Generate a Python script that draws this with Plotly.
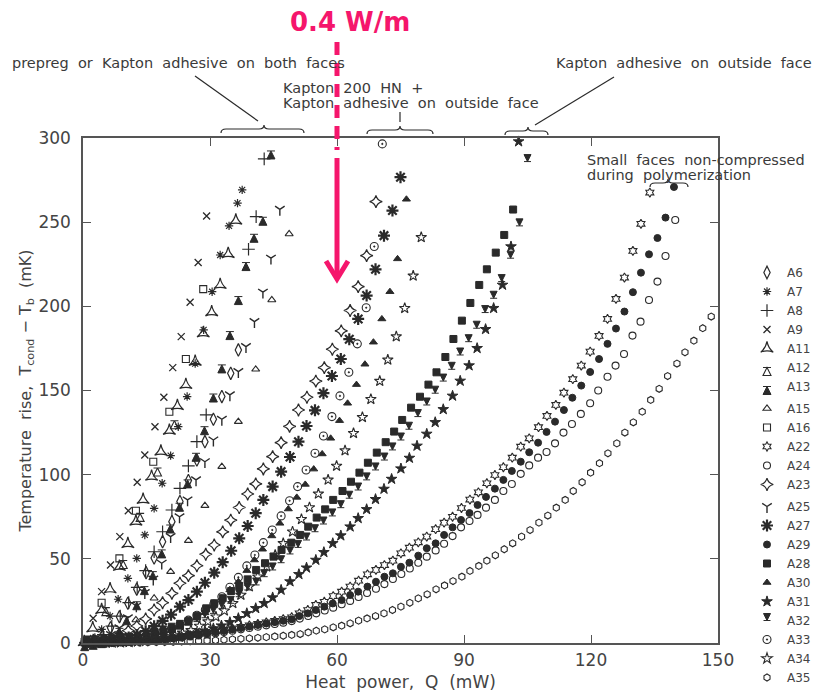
import plotly.graph_objects as go

# ---------------- data: heat power Q (mW) and temperature rise T (mK) ----------------
A6_Q = [0.5, 2.5, 4.5, 6.5, 8.6, 10.6, 12.7, 14.9, 16.8, 18.8, 21.0, 22.9, 24.9, 26.9, 28.8, 30.8, 32.8, 34.9, 36.7]
A6_T = [0.0, 1.5, 4.0, 9.0, 15.6, 23.6, 32.0, 41.8, 50.5, 60.2, 72.1, 84.0, 96.5, 108.7, 119.6, 132.9, 146.4, 160.2, 174.1]

A7_Q = [0.4, 2.4, 4.4, 6.4, 8.3, 10.6, 12.7, 14.6, 16.8, 18.7, 20.7, 22.5, 24.6, 26.5, 28.5, 30.5, 32.4, 34.5, 36.5, 37.6]
A7_T = [0.5, 3.0, 8.1, 16.0, 26.0, 38.4, 50.3, 64.2, 80.0, 94.9, 111.3, 128.5, 146.4, 166.0, 186.0, 208.7, 230.5, 247.8, 261.3, 269.2]

A8_Q = [0.8, 2.8, 4.8, 6.8, 8.8, 10.8, 12.8, 14.8, 16.8, 18.8, 21.0, 22.9, 24.9, 26.9, 29.1, 39.1, 40.9, 42.8]
A8_T = [0.2, 2.0, 5.0, 10.0, 16.0, 24.0, 33.0, 43.0, 54.2, 66.1, 79.0, 91.9, 105.2, 119.6, 135.5, 233.9, 253.3, 287.6]

A9_Q = [0.4, 2.4, 4.4, 6.5, 8.7, 10.7, 12.8, 14.6, 17.0, 19.1, 21.2, 23.2, 25.3, 27.2, 29.2]
A9_T = [1.0, 14.7, 30.5, 46.3, 63.2, 78.6, 95.5, 111.7, 128.5, 146.0, 163.6, 182.0, 202.4, 226.0, 253.7]

A11_Q = [0.3, 2.3, 4.4, 6.4, 8.6, 10.6, 12.5, 14.2, 16.2, 18.4, 20.4, 22.3, 24.3, 26.5, 28.4, 30.4, 32.4, 34.3, 36.1]
A11_T = [0.5, 8.7, 19.6, 31.9, 45.3, 58.8, 72.1, 85.0, 98.8, 113.7, 126.1, 140.8, 153.3, 167.1, 184.0, 196.5, 212.7, 231.1, 250.9]

A12_Q = [1.4, 5.4, 9.5, 13.5, 17.6, 21.6]
A12_T = [2.5, 21.0, 49.0, 77.0, 104.0, 132.0]

A13_Q = [0.4, 2.4, 4.4, 6.4, 8.6, 10.3, 12.7, 14.5, 16.5, 18.6, 20.6, 22.8, 24.7, 26.7, 28.7, 30.8, 32.8, 34.7, 36.7, 38.5, 40.4, 42.5, 44.4]
A13_T = [0.2, 1.0, 2.0, 3.7, 8.7, 15.6, 24.5, 33.5, 42.4, 55.3, 70.1, 83.0, 96.9, 112.7, 128.5, 147.9, 165.2, 185.0, 205.8, 226.0, 242.8, 252.9, 292.3]

A15_Q = [0.5, 4.5, 8.5, 12.5, 16.8, 20.7, 24.9, 28.8, 32.8, 36.7, 40.8, 44.6, 48.7]
A15_T = [0.0, 2.0, 6.5, 13.7, 26.6, 42.4, 60.8, 81.6, 104.8, 131.5, 162.6, 203.8, 243.0]

A16_Q = [0.4, 4.4, 8.6, 12.5, 16.6, 20.4, 24.3, 28.4]
A16_T = [0.5, 23.9, 50.3, 78.6, 107.7, 137.4, 168.7, 210.2]

A22_Q = [1.3, 3.3, 5.3, 7.3, 9.3, 11.3, 13.3, 15.3, 17.3, 19.3, 21.3, 23.3, 25.3, 27.3, 29.3, 31.3, 33.3, 35.3, 37.3, 39.3, 41.3, 43.3, 45.3, 47.3,
         49.3, 51.1, 53.1, 55.0, 57.0, 59.1, 61.1, 63.1, 65.1, 67.2,
         69.2, 71.2, 73.2, 75.1, 77.1, 79.2, 81.2, 83.3, 85.3, 87.3,
         89.4, 91.4, 93.4, 95.4, 97.3, 99.3, 101.4, 103.4, 105.4, 107.6,
         109.6, 111.7, 113.6, 115.7, 117.7, 119.8, 121.9, 123.9, 125.9, 127.9,
         129.9, 131.8, 133.9]
A22_T = [0.0, 0.1, 0.2, 0.4, 0.7, 1.0, 1.4, 1.8, 2.3, 2.8, 3.4, 4.0, 4.7, 5.4, 6.2, 7.0, 7.8, 8.7, 9.6, 10.5, 11.4, 12.3, 13.2, 14.2,
         15.3, 17.6, 19.6, 22.6, 24.5, 27.9, 30.5, 33.5, 37.0, 40.8,
         43.4, 46.3, 48.9, 53.3, 56.6, 59.8, 63.2, 67.6, 71.5, 75.0,
         80.2, 85.2, 89.5, 94.9, 99.8, 104.4, 110.1, 116.6, 121.6, 128.2,
         134.9, 141.4, 148.7, 156.7, 164.8, 173.1, 182.4, 192.5, 204.4, 217.1,
         232.9, 249.0, 267.6]

A24_Q = [1.3, 3.3, 5.3, 7.3, 9.3, 11.3, 13.3, 15.3, 17.3, 19.3, 21.3, 23.3, 25.3, 27.3, 29.3, 31.3, 33.3, 35.3, 37.3, 39.3, 41.3, 43.3, 45.3, 47.3,
         49.3, 51.2, 53.2, 55.1, 57.1, 59.1, 61.1, 63.1, 65.1, 67.1,
         69.2, 71.2, 73.2, 75.2, 77.2, 79.2, 81.2, 83.3, 85.3, 87.3,
         89.3, 91.3, 93.2, 95.2, 97.3, 99.3, 101.3, 103.4, 105.4, 107.5,
         109.5, 111.5, 113.5, 115.5, 117.6, 119.8, 121.7, 123.9, 125.8, 127.8,
         129.8, 131.7, 133.7, 135.7, 137.6, 139.9]
A24_T = [0.0, 0.1, 0.2, 0.3, 0.5, 0.8, 1.1, 1.4, 1.8, 2.3, 2.8, 3.3, 3.9, 4.5, 5.1, 5.8, 6.5, 7.3, 8.1, 8.9, 9.7, 10.5, 11.3, 12.1,
         13.0, 14.5, 16.0, 17.6, 19.3, 21.0, 23.0, 25.0, 27.3, 29.7,
         32.2, 35.0, 38.0, 41.0, 44.3, 47.7, 51.3, 55.0, 59.0, 63.5,
         68.7, 72.5, 76.1, 80.4, 85.0, 90.3, 94.5, 100.5, 105.5, 110.1,
         113.5, 118.6, 125.0, 130.1, 136.1, 142.4, 150.0, 158.2, 164.8, 171.7,
         182.6, 190.9, 203.8, 214.7, 229.9, 251.3]

A23_Q = [0.6, 2.6, 4.6, 6.6, 8.6, 10.7, 12.7, 14.8, 16.8, 18.8,
         21.0, 22.9, 24.9, 26.9, 29.0, 31.0, 33.0, 34.9, 36.9, 38.9,
         40.8, 42.6, 44.8, 46.8, 48.8, 50.9, 52.9, 55.0, 57.0, 58.9,
         61.0, 63.1, 65.0, 67.0, 69.2]
A23_T = [0.2, 0.8, 1.7, 3.0, 5.0, 7.3, 10.1, 14.3, 19.6, 23.9,
         29.5, 35.5, 40.0, 45.9, 52.7, 58.2, 66.0, 73.0, 80.5, 88.5,
         94.5, 103.4, 110.7, 119.0, 128.7, 138.4, 146.0, 155.6, 163.6, 174.5,
         185.4, 197.5, 211.7, 230.1, 262.2]

A25_Q = [0.6, 2.6, 4.6, 6.6, 8.6, 10.6, 12.6, 14.6, 16.6, 18.6,
         20.7, 22.8, 24.7, 26.7, 28.8, 30.8, 32.8, 34.7, 36.7, 38.5,
         40.5, 42.5, 44.4, 46.5]
A25_T = [0.0, 0.5, 2.0, 5.0, 9.0, 15.0, 22.0, 30.0, 38.0, 47.4,
         63.2, 75.0, 85.0, 96.9, 107.7, 120.6, 132.9, 147.4, 161.2, 176.1,
         190.9, 208.4, 228.6, 257.6]

A27_Q = [0.8, 2.8, 4.8, 6.8, 8.8, 10.8, 12.8, 14.8, 16.8, 18.8,
         20.8, 22.9, 24.9, 26.9, 28.8, 31.0, 33.0, 35.0, 36.9, 38.9,
         40.8, 42.6, 44.8, 46.8, 48.9, 50.9, 52.8, 54.8, 56.8, 58.8,
         60.9, 62.9, 65.0, 67.0, 69.1, 71.1, 73.1, 75.0]
A27_T = [0.0, 0.2, 0.6, 1.2, 2.0, 3.2, 4.8, 7.0, 10.0, 13.2,
         16.8, 21.6, 25.5, 30.5, 35.8, 41.8, 48.0, 54.8, 62.2, 69.5,
         77.1, 85.0, 92.9, 101.8, 110.5, 119.6, 128.9, 138.2, 148.4, 158.6,
         168.7, 180.5, 192.5, 206.4, 222.0, 242.0, 256.9, 276.7]

A29_Q = [1.3, 3.3, 5.3, 7.3, 9.3, 11.3, 13.3, 15.3, 17.3, 19.3, 21.3, 23.3, 25.3, 27.3, 29.3, 31.3, 33.3, 35.3, 37.3, 39.3, 41.3, 43.3, 45.3, 47.3,
         49.3, 51.1, 53.1, 55.0, 57.0, 59.0, 61.1, 63.1, 65.0, 67.2,
         69.2, 71.2, 73.2, 75.1, 77.1, 79.2, 81.2, 83.3, 85.3, 87.3,
         89.3, 91.3, 93.2, 95.2, 97.3, 99.3, 101.3, 103.4, 105.4, 107.5,
         109.5, 111.5, 113.6, 115.6, 117.7, 119.8, 121.9, 123.9, 125.9, 127.9,
         129.9, 131.8, 133.7, 135.7, 137.6, 139.6]
A29_T = [0.0, 0.1, 0.2, 0.4, 0.6, 0.9, 1.2, 1.6, 2.0, 2.5, 3.0, 3.6, 4.2, 4.9, 5.6, 6.4, 7.2, 8.0, 8.9, 9.8, 10.7, 11.6, 12.4, 13.2,
         14.1, 16.0, 17.6, 19.6, 21.6, 23.5, 25.5, 28.5, 30.5, 33.5,
         36.4, 39.4, 41.4, 45.3, 47.7, 51.9, 56.3, 59.2, 64.2, 68.7,
         73.1, 77.2, 82.0, 86.8, 91.7, 96.9, 102.2, 107.7, 113.3, 119.0,
         125.4, 131.5, 138.4, 145.7, 152.9, 161.0, 168.7, 177.7, 186.8, 196.9,
         208.4, 220.0, 230.9, 240.6, 252.7, 270.9]

A28_Q = [1.0, 3.0, 5.0, 7.0, 9.0, 11.0, 13.0, 15.0, 17.0, 19.0,
         21.0, 22.9, 24.9, 26.9, 29.1, 31.0, 33.0, 35.0, 36.9, 38.9,
         40.9, 43.0, 45.0, 46.9, 49.2, 51.3, 53.2, 55.2, 57.2, 59.1,
         61.3, 63.3, 65.3, 67.3, 69.4, 71.5, 73.5, 75.4, 77.5, 79.6,
         81.6, 83.5, 85.6, 87.5, 89.5, 91.5, 93.6, 95.4, 97.5, 99.5,
         101.6]
A28_T = [0.0, 0.2, 0.4, 0.8, 1.3, 2.0, 2.9, 4.0, 5.3, 6.8,
         8.5, 10.5, 13.0, 16.0, 20.6, 23.6, 26.6, 30.9, 33.9, 37.8,
         43.4, 47.4, 51.3, 55.3, 59.6, 64.2, 69.1, 74.5, 79.4, 85.0,
         90.3, 95.8, 101.2, 107.1, 113.1, 119.3, 125.6, 132.5, 139.8, 146.3,
         153.5, 160.8, 169.9, 180.6, 191.5, 202.0, 212.7, 222.0, 231.9, 242.4,
         257.5]

A30_Q = [0.9, 2.9, 4.9, 6.9, 8.9, 10.9, 12.9, 14.9, 16.9, 18.9,
         20.8, 22.9, 24.9, 26.9, 28.8, 30.8, 32.8, 34.7, 36.7, 38.7,
         40.5, 42.4, 44.6, 46.5, 48.5, 50.5, 52.5, 54.5, 56.5, 58.5,
         60.6, 62.5, 64.6, 66.6, 68.6, 70.6, 72.5, 74.3, 76.4]
A30_T = [0.0, 0.1, 0.3, 0.6, 1.0, 1.6, 2.4, 3.4, 4.6, 5.9,
         7.3, 9.3, 11.7, 14.7, 18.0, 22.0, 26.6, 31.5, 36.4, 43.0,
         49.3, 55.7, 63.6, 71.1, 79.6, 86.5, 94.2, 103.3, 112.3, 121.6,
         132.1, 142.4, 153.5, 165.6, 178.7, 192.5, 208.7, 228.2, 263.6]

A31_Q = [1.0, 3.0, 4.9, 6.9, 8.9, 10.9, 12.9, 14.8, 16.8, 18.8,
         20.8, 22.8, 24.8, 26.8, 28.8, 30.8, 32.7, 34.7, 36.7, 38.7,
         40.8, 42.8, 44.8, 46.8, 48.9, 51.0, 52.8, 55.0, 56.9, 59.0,
         60.9, 63.1, 65.0, 67.0, 69.1, 71.1, 72.9, 75.1, 77.1, 78.9,
         81.2, 83.2, 85.1, 87.3, 89.1, 91.2, 93.1, 95.1, 97.0, 99.1,
         101.1, 102.9]
A31_T = [0.0, 0.0, 0.0, 0.1, 0.2, 0.4, 0.7, 1.0, 1.5, 2.1,
         2.8, 3.6, 4.6, 5.7, 7.0, 8.6, 10.3, 12.3, 14.7, 17.6,
         20.6, 23.6, 27.0, 31.5, 36.5, 40.8, 44.7, 49.3, 53.9, 59.2,
         63.8, 69.1, 74.1, 79.4, 85.4, 91.5, 97.4, 103.6, 109.9, 117.1,
         124.2, 131.1, 138.8, 146.8, 155.7, 164.8, 175.1, 186.4, 198.9, 212.7,
         235.5, 297.9]

A32_Q = [1.0, 2.9, 4.9, 6.9, 8.9, 10.9, 12.9, 14.9, 16.9, 18.9,
         20.9, 22.9, 24.9, 26.9, 28.8, 30.8, 32.8, 34.9, 36.9, 38.9,
         40.9, 42.8, 44.8, 46.8, 48.9, 50.8, 52.8, 54.8, 56.8, 58.9,
         60.9, 62.9, 65.0, 67.0, 69.1, 71.2, 73.1, 75.1, 77.0, 79.1,
         81.2, 83.2, 85.1, 87.1, 89.1, 91.1, 93.0, 95.0, 97.0, 98.9,
         101.0, 103.1, 105.0]
A32_T = [0.0, 0.1, 0.3, 0.6, 1.0, 1.6, 2.4, 3.4, 4.6, 6.0,
         7.6, 9.3, 10.7, 12.7, 15.0, 17.6, 20.6, 23.6, 27.5, 31.5,
         34.5, 39.4, 43.4, 47.7, 52.9, 56.8, 61.2, 66.1, 70.7, 75.5,
         80.4, 86.0, 90.9, 96.9, 102.8, 108.7, 114.7, 120.6, 127.0, 134.5,
         141.4, 148.4, 155.6, 162.6, 171.1, 179.0, 187.0, 196.3, 204.8, 214.7,
         228.6, 247.8, 286.0]

A33_Q = [0.9, 2.9, 4.9, 6.9, 8.9, 10.9, 12.9, 14.9, 16.9, 18.9,
         20.9, 22.9, 24.9, 26.9, 28.9, 30.9, 32.8, 34.7, 36.7, 38.7,
         40.6, 42.6, 44.7, 46.8, 48.8, 50.7, 52.7, 54.8, 56.8, 58.8,
         60.7, 62.8, 64.8, 66.9, 68.8, 70.7]
A33_T = [0.0, 0.1, 0.4, 0.8, 1.3, 2.0, 2.9, 4.0, 5.3, 6.9,
         8.8, 11.0, 13.6, 16.5, 19.7, 23.2, 27.5, 33.1, 39.0, 45.8,
         52.3, 59.6, 67.1, 75.5, 84.5, 92.9, 102.8, 112.7, 123.0, 134.5,
         146.8, 160.8, 177.7, 199.2, 235.5, 296.5]

A34_Q = [1.5, 3.5, 5.5, 7.5, 9.5, 11.5, 13.5, 15.6, 17.6, 19.6,
         21.6, 23.5, 25.5, 27.5, 29.5, 31.4, 33.4, 35.4, 37.3, 39.3,
         41.3, 43.4, 45.4, 47.3, 49.5, 51.6, 53.5, 55.6, 57.9, 59.9,
         61.9, 63.9, 66.0, 68.0, 70.1, 72.0, 74.0, 76.0, 78.0, 79.9]
A34_T = [0.0, 0.1, 0.2, 0.4, 0.7, 1.1, 1.6, 2.2, 2.9, 3.8,
         4.8, 6.0, 7.5, 10.1, 12.7, 15.6, 19.2, 23.6, 28.5, 33.5,
         39.4, 45.3, 52.3, 59.2, 66.1, 73.5, 80.5, 88.6, 96.9, 105.2,
         114.3, 124.6, 134.1, 144.8, 155.6, 168.2, 182.0, 198.9, 218.1, 241.0]

A35_Q = [1.3, 3.3, 5.3, 7.3, 9.3, 11.3, 13.3, 15.3, 17.3, 19.3, 21.3, 23.3, 25.3, 27.3, 29.3, 31.3, 33.3, 35.3, 37.3, 39.3, 41.3, 43.3, 45.3, 47.3, 49.3,
         51.3, 53.2, 55.1, 57.1, 59.1, 61.1, 63.1, 65.1, 67.1, 69.1,
         71.1, 73.1, 75.1, 77.2, 79.2, 81.3, 83.4, 85.4, 87.4, 89.5,
         91.4, 93.5, 95.4, 97.4, 99.5, 101.5, 103.6, 105.6, 107.7, 109.8,
         111.8, 113.9, 115.8, 117.9, 119.9, 122.0, 124.0, 126.1, 128.0, 130.0,
         132.1, 134.1, 136.1, 138.1, 140.3, 142.2, 144.3, 146.4, 148.4]
A35_T = [0.0, 0.0, 0.1, 0.1, 0.2, 0.2, 0.3, 0.4, 0.5, 0.6, 0.7, 0.9, 1.0, 1.2, 1.4, 1.6, 1.9, 2.2, 2.5, 2.8, 3.1, 3.5, 3.9, 4.3, 4.8,
         5.3, 6.3, 7.3, 8.1, 9.3, 10.3, 11.7, 13.3, 14.6, 16.0,
         17.6, 19.6, 21.6, 23.9, 26.5, 28.9, 31.9, 34.2, 36.8, 39.4,
         42.8, 45.8, 48.9, 52.1, 55.7, 59.2, 63.2, 67.1, 71.5, 75.7,
         80.4, 85.0, 90.3, 95.5, 101.2, 106.8, 112.7, 118.6, 125.0, 131.1,
         137.4, 144.4, 151.0, 158.6, 166.0, 172.7, 179.6, 187.0, 193.9]

X_TICKS = [0, 30, 60, 90, 120, 150]

# (name, Q, T, legend group) in legend order
SERIES = [
    ("A6", A6_Q, A6_T, "g1"), ("A7", A7_Q, A7_T, "g1"), ("A8", A8_Q, A8_T, "g1"),
    ("A9", A9_Q, A9_T, "g1"), ("A11", A11_Q, A11_T, "g1"), ("A12", A12_Q, A12_T, "g1"),
    ("A13", A13_Q, A13_T, "g1"),
    ("A15", A15_Q, A15_T, "g2"), ("A16", A16_Q, A16_T, "g2"), ("A22", A22_Q, A22_T, "g2"),
    ("A24", A24_Q, A24_T, "g2"), ("A23", A23_Q, A23_T, "g2"),
    ("A25", A25_Q, A25_T, "g3"), ("A27", A27_Q, A27_T, "g3"), ("A29", A29_Q, A29_T, "g3"),
    ("A28", A28_Q, A28_T, "g3"), ("A30", A30_Q, A30_T, "g3"), ("A31", A31_Q, A31_T, "g3"),
    ("A32", A32_Q, A32_T, "g3"), ("A33", A33_Q, A33_T, "g3"), ("A34", A34_Q, A34_T, "g3"),
    ("A35", A35_Q, A35_T, "g3"),
]

# marker styles: symbol, size, line width
STYLE = {
    "A6": ("diamond-tall-open", 9, 1.2), "A7": ("asterisk-open", 7, 1.2),
    "A8": ("cross-thin-open", 9, 1.2), "A9": ("x-thin-open", 7, 1.3),
    "A11": ("star-triangle-up-open", 9, 1.2), "A12": ("arrow-bar-up-open", 8, 1.1),
    "A13": ("arrow-bar-up", 8, 1.0), "A15": ("triangle-up-open", 7, 1.1),
    "A16": ("square-open", 7, 1.1), "A22": ("hexagram-open", 7, 1.1),
    "A24": ("circle-open", 7, 1.1), "A23": ("star-diamond-open", 9, 1.2),
    "A25": ("y-down-open", 8, 1.4), "A27": ("asterisk-open", 10, 2.2),
    "A29": ("circle", 7, 1.0), "A28": ("square", 7, 1.0),
    "A30": ("triangle-up", 7, 1.0), "A31": ("star", 8, 1.0),
    "A32": ("arrow-bar-down", 7, 1.0), "A33": ("circle-open-dot", 8, 1.1),
    "A34": ("star-open", 8, 1.1), "A35": ("hexagon-open", 7, 1.1),
}

INK = "#2a2a2a"
TXT = "#3a3a3a"
PINK = "#f5166c"

# pixel -> paper helpers for decorations (plot area: x 83..718, y 138..643)
def px(x):
    return (x - 83) / 635.0

def py(y):
    return (643 - y) / 505.0

fig = go.Figure()
for name, q, t, grp in SERIES:
    sym, size, lw = STYLE[name]
    fig.add_trace(go.Scatter(
        x=q, y=t, mode="markers", name=name, legendgroup=grp,
        marker=dict(symbol=sym, size=size, color=INK, line=dict(color=INK, width=lw)),
        cliponaxis=False, hoverinfo="x+y+name"))

def brace(x0, x1, xm, yb):
    d = 5
    pts = ("M {a},{b} Q {a},{c} {e},{c} L {f},{c} Q {g},{c} {g},{h} "
           "Q {g},{c} {i},{c} L {j},{c} Q {k},{c} {k},{b}").format(
        a=px(x0), b=py(yb), c=py(yb - 4), e=px(x0 + d), f=px(xm - d), g=px(xm),
        h=py(yb - 8), i=px(xm + d), j=px(x1 - d), k=px(x1))
    return dict(type="path", xref="paper", yref="paper", path=pts,
                line=dict(color=INK, width=1.2), layer="above")

def seg(x0, y0, x1, y1, color=INK, width=1.2):
    return dict(type="line", xref="paper", yref="paper", x0=px(x0), y0=py(y0),
                x1=px(x1), y1=py(y1), line=dict(color=color, width=width), layer="above")

shapes = [
    brace(221, 304, 264, 133),
    brace(367, 433, 400, 134),
    brace(505, 548, 528, 135),
    brace(650, 688, 668, 187),
    seg(258, 121, 195, 76),
    seg(400, 112, 400, 122),
    seg(614, 77, 535, 125),
    # pink marker at Q = 60 mW
    dict(type="line", xref="paper", yref="paper", x0=0.4, x1=0.4, y0=py(42), y1=py(150),
         line=dict(color=PINK, width=5, dash="13px,8px"), layer="above"),
    dict(type="line", xref="paper", yref="paper", x0=0.4, x1=0.4, y0=py(158), y1=py(276),
         line=dict(color=PINK, width=5), layer="above"),
    dict(type="path", xref="paper", yref="paper",
         path="M {},{} L {},{} L {},{}".format(px(326), py(261), px(337), py(279), px(348), py(261)),
         line=dict(color=PINK, width=5), layer="above"),
]

def label(text, x, y, size=14.5, color=TXT, xanchor="left", bold=False):
    return dict(text=("<b>%s</b>" % text) if bold else text, x=x, y=y, xref="paper", yref="paper",
                xanchor=xanchor, yanchor="middle", showarrow=False,
                font=dict(family="DejaVu Sans", size=size, color=color))

annotations = [
    label("0.4 W/m", px(350), py(22), size=26, color=PINK, xanchor="center", bold=True),
    label("prepreg  or  Kapton  adhesive  on  both  faces", px(10), py(63)),
    label("Kapton  200  HN  +", px(281), py(88)),
    label("Kapton  adhesive  on  outside  face", px(281), py(103)),
    label("Kapton  adhesive  on  outside  face", px(554), py(63)),
    label("Small  faces  non-compressed", px(585), py(160)),
    label("during  polymerization", px(585), py(175)),
]

axis_common = dict(
    ticks="inside", ticklen=8, tickwidth=1.3, tickcolor="#555",
    showline=True, linecolor="#555", linewidth=1.5, mirror="ticks",
    showgrid=False, zeroline=False,
    tickfont=dict(family="DejaVu Sans", size=17, color="#444"),
)

fig.update_layout(
    width=818, height=692,
    margin=dict(l=83, r=100, t=138, b=49, autoexpand=False),
    paper_bgcolor="white", plot_bgcolor="white",
    font=dict(family="DejaVu Sans", color=TXT, size=14),
    showlegend=True,
    legend=dict(x=px(747), y=py(258), xanchor="left", yanchor="top",
                font=dict(family="DejaVu Sans", size=12, color="#444"),
                tracegroupgap=3, traceorder="grouped", bgcolor="rgba(0,0,0,0)",
                itemwidth=30, borderwidth=0),
    xaxis=dict(range=[0, 150], tickvals=X_TICKS, ticklabelstandoff=1,
               title=dict(text="Heat  power,  Q  (mW)", standoff=14,
                          font=dict(family="DejaVu Sans", size=17, color="#444")),
               **axis_common),
    yaxis=dict(range=[0, 300], dtick=50, ticklabelstandoff=7,
               title=dict(text="Temperature  rise,  T<sub>cond</sub> \u2212 T<sub>b</sub>  (mK)", standoff=3,
                          font=dict(family="DejaVu Sans", size=16, color="#444")),
               **axis_common),
    shapes=shapes,
    annotations=annotations,
)

fig.write_html("out.html", config={"displayModeBar": False},
               post_script="document.body.style.margin='0';document.body.style.overflow='hidden';")
